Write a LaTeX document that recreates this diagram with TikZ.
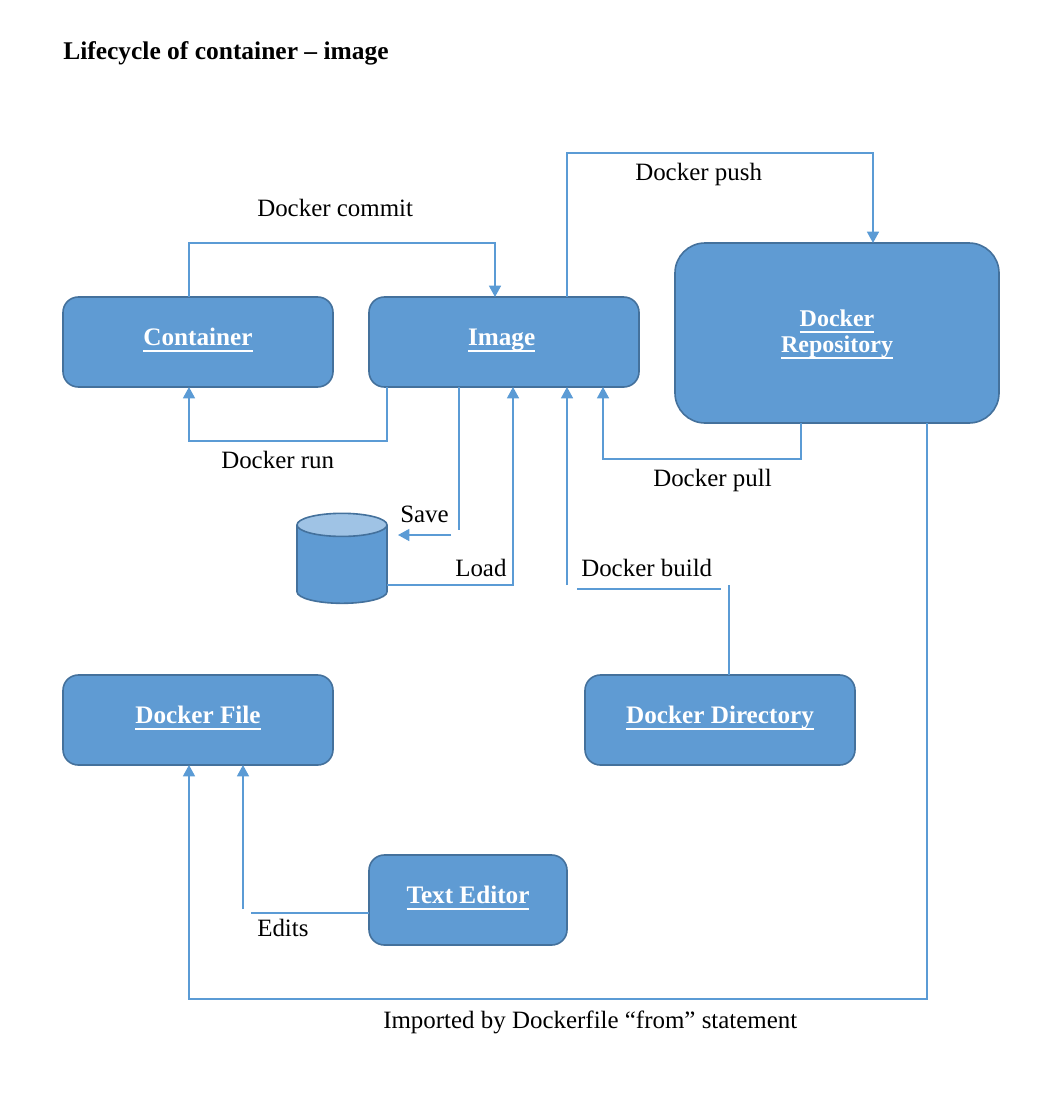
\documentclass[tikz,border=0pt]{standalone}
\usepackage{fontspec}
\setmainfont{Liberation Serif}
\usetikzlibrary{arrows.meta,shapes.geometric}
\definecolor{boxblue}{HTML}{5F9BD3}
\definecolor{boxedge}{HTML}{44719C}
\definecolor{linkblue}{HTML}{5B9BD5}
\definecolor{disktop}{HTML}{9FC3E5}
\newcommand{\boxline}[1]{\setbox0\hbox{#1}\rlap{\rule[-5pt]{\wd0}{1.5pt}}\rule[-8.5pt]{0pt}{21.5pt}\box0}
\tikzset{
  box/.style={draw=boxedge, fill=boxblue, line width=1.2pt, rounded corners=11.5pt,
    outer sep=0pt, text=white, align=center, minimum height=67.5pt,
    font=\fontsize{18.9}{21.5}\selectfont\bfseries},
  link/.style={draw=linkblue, line width=1.15pt},
  linkarrow/.style={link, -{Triangle[length=8.5pt,width=9pt]}},
  caption/.style={anchor=base west, inner sep=0pt, font=\fontsize{18.7}{20}\selectfont},
}
\begin{document}
\begin{tikzpicture}[x=0.75pt,y=-0.75pt]
  \useasboundingbox (0,0) rectangle (1058,1106);
  \node[caption, font=\fontsize{19.1}{20}\selectfont\bfseries] (title) at (63,60) {Lifecycle of container -- image};

  \node[box, minimum width=202.5pt] (container) at (198,342) {\boxline{Container}};
  \node[box, minimum width=202.5pt] (image) at (504,342) {\boxline{Image}\hspace*{3.5pt}};
  \node[box, minimum width=243pt, minimum height=135pt, rounded corners=22.5pt,
    font=\fontsize{18}{21.5}\selectfont\bfseries] (repository) at (837,333) {\rule{0pt}{17.5pt}\boxline{Docker}\\[-2pt]\boxline{Repository}};
  \node[box, minimum width=202.5pt] (dockerfile) at (198,720) {\boxline{Docker File}};
  \node[box, minimum width=202.5pt] (directory) at (720,720) {\boxline{Docker Directory}};
  \node[box, minimum width=148.5pt] (editor) at (468,900) {\boxline{Text Editor}};
  \node[cylinder, shape border rotate=90, aspect=2.6, draw=boxedge, line width=1.2pt, outer sep=0pt,
    cylinder uses custom fill, cylinder body fill=boxblue, cylinder end fill=disktop,
    minimum width=67.5pt, minimum height=67.5pt] (disk) at (342,567) {};

  \node[caption] (commit) at (257,216) {Docker commit};
  \node[caption] (push) at (635,180) {Docker push};
  \node[caption] (run) at (221,468) {Docker run};
  \node[caption] (pull) at (653,486) {Docker pull};
  \node[caption] (save) at (400,522) {Save};
  \node[caption] (load) at (455,576) {Load};
  \node[caption] (build) at (581,576) {Docker build};
  \node[caption] (edits) at (257,936) {Edits};
  \node[caption] (imported) at (383,1028) {Imported by Dockerfile “from” statement};

  \coordinate (commitA) at (189,243);
  \coordinate (commitB) at (495,243);
  \coordinate (pushA) at (567,153);
  \coordinate (pushB) at (873,153);
  \coordinate (runA) at (387,441);
  \coordinate (runB) at (189,441);
  \coordinate (pullA) at (801,459);
  \coordinate (pullB) at (603,459);
  \coordinate (saveA) at (459,530);   % the save line stops short
  \coordinate (saveB) at (451,535);
  \coordinate (saveC) at (398,535);
  \coordinate (loadA) at (513,585);
  \coordinate (buildA) at (567,585);
  \coordinate (buildB) at (577,589);
  \coordinate (buildC) at (721,589);
  \coordinate (buildD) at (729,585);
  \coordinate (editsA) at (243,909);
  \coordinate (editsB) at (251,913);
  \coordinate (importA) at (927,999);
  \coordinate (importB) at (189,999);

  \draw[linkarrow] (container.north -| commitA) -- (commitA) -- (commitB) -- (image.north -| commitB);
  \draw[linkarrow] (image.north -| pushA) -- (pushA) -- (pushB) -- (repository.north -| pushB);
  \draw[linkarrow] (image.south -| runA) -- (runA) -- (runB) -- (container.south -| runB);
  \draw[linkarrow] (repository.south -| pullA) -- (pullA) -- (pullB) -- (image.south -| pullB);
  \draw[link] (image.south -| saveA) -- (saveA);
  \draw[linkarrow] (saveB) -- (saveC);
  \draw[linkarrow] (disk.east |- loadA) -- (loadA) -- (image.south -| loadA);
  \draw[linkarrow] (buildA) -- (image.south -| buildA);
  \draw[link] (buildB) -- (buildC);
  \draw[link] (directory.north -| buildD) -- (buildD);
  \draw[linkarrow] (editsA) -- (dockerfile.south -| editsA);
  \draw[link] (editor.west |- editsB) -- (editsB);
  \draw[linkarrow] (repository.south -| importA) -- (importA) -- (importB) -- (dockerfile.south -| importB);
\end{tikzpicture}
\end{document}
